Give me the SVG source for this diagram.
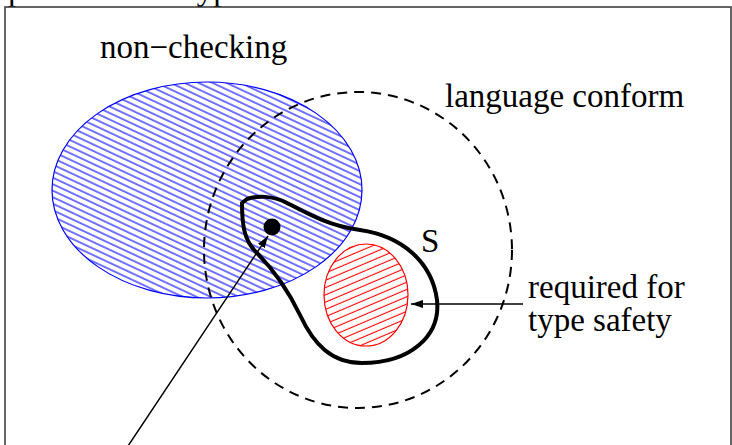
<svg xmlns="http://www.w3.org/2000/svg" width="732" height="445" viewBox="0 0 732 445">
<style>
text{font-family:"Liberation Serif","Times New Roman",serif;font-size:33px;fill:#000}
.thin{fill:none;stroke:#000;stroke-width:1.5}
</style>
<defs>
<pattern id="hb" patternUnits="userSpaceOnUse" width="20" height="5.9" patternTransform="rotate(25)">
<line x1="0" y1="3" x2="20" y2="3" stroke="#0000ff" stroke-width="1.1"/>
</pattern>
<pattern id="hr" patternUnits="userSpaceOnUse" width="20" height="6.7" patternTransform="rotate(-23)">
<line x1="0" y1="3.3" x2="20" y2="3.3" stroke="#ff0000" stroke-width="1.1"/>
</pattern>
<marker id="ah" viewBox="0 0 12 8" refX="12" refY="4" markerWidth="12" markerHeight="8" markerUnits="userSpaceOnUse" orient="auto">
<path d="M0,0 L12,4 L0,8 Z" fill="#000"/>
</marker>
</defs>
<rect width="732" height="445" fill="#fff"/>
<text x="8" y="0">possible data type behaviours</text>
<rect x="5" y="7" width="726" height="450" fill="none" stroke="#333" stroke-width="1.5"/>
<g id="non-checking">
<ellipse cx="207" cy="190" rx="155" ry="108" fill="url(#hb)" stroke="#0000ff" stroke-width="1.2"/>
<text x="100" y="58">non−checking</text>
</g>
<g id="language-conform">
<ellipse cx="358" cy="250" rx="154" ry="158" fill="none" stroke="#000" stroke-width="2" stroke-dasharray="10,7"/>
<text x="445" y="107">language conform</text>
</g>
<g id="required">
<ellipse cx="366" cy="295" rx="42" ry="51" fill="url(#hr)" stroke="#ff0000" stroke-width="1.2"/>
</g>
<g id="S">
<path d="M242,203 L247,199 C256,196 272,195 287,203 C310,215 330,226 360,230 C402,236 432,262 437,300 C441,336 410,363 362,363 C332,363 314,345 300,315 C287,288 272,268 256,252 C244,240 242,225 242,203 Z" fill="none" stroke="#000" stroke-width="4" stroke-linejoin="round"/>
<text x="421" y="252">S</text>
</g>
<g id="point">
<circle cx="272" cy="227" r="8.5" fill="#000"/>
</g>
<g id="labels">
<text x="528" y="298">required for</text>
<text x="528" y="331">type safety</text>
</g>
<g id="connectors">
<line x1="128" y1="446" x2="268" y2="236" class="thin" marker-end="url(#ah)"/>
<line x1="523" y1="304" x2="411" y2="304" class="thin" marker-end="url(#ah)"/>
</g>
</svg>
